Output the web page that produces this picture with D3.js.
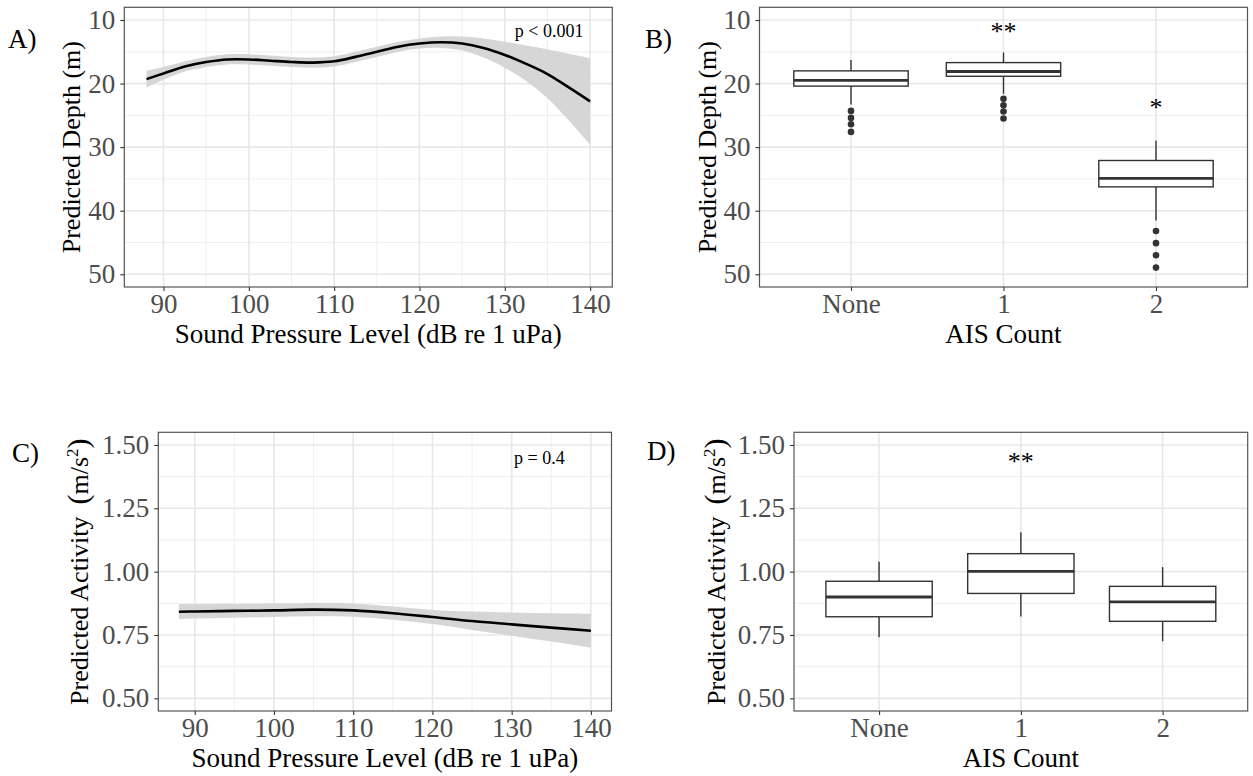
<!DOCTYPE html>
<html>
<head>
<meta charset="utf-8">
<script src="https://cdn.jsdelivr.net/npm/d3@7"></script>
<style>
  body { margin: 0; background: #fff; }
  text { font-family: "Liberation Serif", "Times New Roman", serif; }
</style>
</head>
<body>
<svg id="chart" width="1253" height="776"></svg>
<script>
// ---- data ----
// A) depth smooth vs sound pressure level
const splX       = [88, 90, 92.5, 95, 97.5, 100, 102.5, 105, 107.5, 110, 112.5, 115, 117.5, 120, 122.5, 125, 127.5, 130, 132.5, 135, 137.5, 140];
const depthFit   = [19.3, 18.4, 17.3, 16.6, 16.2, 16.2, 16.4, 16.6, 16.7, 16.5, 15.8, 15.0, 14.2, 13.7, 13.5, 13.7, 14.4, 15.5, 16.9, 18.5, 20.6, 22.8];
const depthUpper = [18.0, 17.4, 16.5, 15.8, 15.4, 15.4, 15.6, 15.8, 15.9, 15.7, 15.0, 14.2, 13.4, 12.9, 12.6, 12.6, 12.9, 13.4, 14.0, 14.6, 15.3, 16.0];
const depthLower = [20.6, 19.4, 18.1, 17.4, 17.0, 17.0, 17.2, 17.4, 17.5, 17.3, 16.6, 15.8, 15.0, 14.5, 14.4, 14.8, 15.9, 17.5, 19.6, 22.3, 25.8, 29.6];

// C) activity smooth vs sound pressure level
const splXC    = [88, 90, 95, 100, 105, 110, 115, 120, 125, 130, 135, 140];
const actFit   = [0.842, 0.843, 0.845, 0.847, 0.850, 0.847, 0.836, 0.821, 0.805, 0.792, 0.779, 0.767];
const actUpper = [0.872, 0.872, 0.873, 0.874, 0.876, 0.874, 0.862, 0.849, 0.843, 0.839, 0.836, 0.834];
const actLower = [0.813, 0.815, 0.818, 0.821, 0.824, 0.822, 0.810, 0.793, 0.770, 0.747, 0.724, 0.700];

// B) depth boxplots by AIS count
const aisCats       = ["None", "1", "2"];
const depthWhiskLo  = [16.3, 15.1, 29.0];
const depthQ1       = [18.0, 16.7, 32.1];
const depthMedian   = [19.5, 18.1, 34.9];
const depthQ3       = [20.4, 18.85, 36.25];
const depthWhiskHi  = [23.3, 21.6, 41.55];
const depthOutliers = [[24.3, 25.4, 26.4, 27.6], [22.4, 23.4, 24.4, 25.5], [43.2, 45.1, 47.0, 48.95]];
const depthSigCats   = ["1", "2"];
const depthSigLabels = ["**", "*"];
const depthSigY      = [11.05, 23.0];

// D) activity boxplots by AIS count
const actWhiskLo = [0.741, 0.823, 0.725];
const actQ1      = [0.822, 0.914, 0.804];
const actMedian  = [0.900, 1.001, 0.881];
const actQ3      = [0.962, 1.071, 0.942];
const actWhiskHi = [1.039, 1.156, 1.018];
const actSigCats   = ["1"];
const actSigLabels = ["**"];
const actSigY      = [1.454];

// ticks
const splTicks   = [90, 100, 110, 120, 130, 140];
const splMinor   = [95, 105, 115, 125, 135];
const depthTicks = [10, 20, 30, 40, 50];
const depthMinor = [15, 25, 35, 45];
const actTicks   = [0.50, 0.75, 1.00, 1.25, 1.50];
const actMinor   = [0.625, 0.875, 1.125, 1.375];

// ---- layout ----
const svg = d3.select("#chart");
svg.append("rect").attr("width", 1253).attr("height", 776).attr("fill", "#fff");

const boxes = {
    A: {l: 124.3, r: 612.3, t: 7.3, b: 287},
    B: {l: 759.5, r: 1247.5, t: 7.3, b: 287},
    C: {l: 158.3, r: 611.5, t: 432.3, b: 711},
    D: {l: 794, r: 1247.7, t: 432.3, b: 711}
};

const expand = (lo, hi) => { const e = (hi - lo) * 0.05; return [lo - e, hi + e]; };

const splDom = expand(88, 140);
const depthDom = expand(10, 50);
const actDom = expand(0.5, 1.5);

const xA = d3.scaleLinear().domain(splDom).range([boxes.A.l, boxes.A.r]);
const yA = d3.scaleLinear().domain(depthDom).range([boxes.A.t, boxes.A.b]);   // reversed depth
const xB = d3.scalePoint().domain(aisCats).range([boxes.B.l, boxes.B.r]).padding(0.6);
const yB = d3.scaleLinear().domain(depthDom).range([boxes.B.t, boxes.B.b]);
const xC = d3.scaleLinear().domain(splDom).range([boxes.C.l, boxes.C.r]);
const yC = d3.scaleLinear().domain(actDom).range([boxes.C.b, boxes.C.t]);
const xD = d3.scalePoint().domain(aisCats).range([boxes.D.l, boxes.D.r]).padding(0.6);
const yD = d3.scaleLinear().domain(actDom).range([boxes.D.b, boxes.D.t]);

// grid + background for a panel
function grid(box, x, y, xMajor, xMinor, yMajor, yMinor) {
    const g = svg.append("g");
    g.append("rect").attr("x", box.l).attr("y", box.t)
        .attr("width", box.r - box.l).attr("height", box.b - box.t).attr("fill", "#fff");
    g.selectAll(".ymin").data(yMinor).enter().append("line")
        .attr("x1", box.l).attr("x2", box.r).attr("y1", d => y(d)).attr("y2", d => y(d))
        .attr("stroke", "#efefef").attr("stroke-width", 1);
    g.selectAll(".xmin").data(xMinor).enter().append("line")
        .attr("y1", box.t).attr("y2", box.b).attr("x1", d => x(d)).attr("x2", d => x(d))
        .attr("stroke", "#efefef").attr("stroke-width", 1);
    g.selectAll(".ymaj").data(yMajor).enter().append("line")
        .attr("x1", box.l).attr("x2", box.r).attr("y1", d => y(d)).attr("y2", d => y(d))
        .attr("stroke", "#e8e8e8").attr("stroke-width", 1.6);
    g.selectAll(".xmaj").data(xMajor).enter().append("line")
        .attr("y1", box.t).attr("y2", box.b).attr("x1", d => x(d)).attr("x2", d => x(d))
        .attr("stroke", "#e8e8e8").attr("stroke-width", 1.6);
    return g;
}

// border, axes and titles
function frame(box, x, y, xTicks, yTicks, yFmt, xTitle, yTitleX, tag, tagX, tagY, xTitleGap) {
    svg.append("rect").attr("x", box.l).attr("y", box.t)
        .attr("width", box.r - box.l).attr("height", box.b - box.t)
        .attr("fill", "none").attr("stroke", "#555").attr("stroke-width", 1.2);

    const ax = svg.append("g").attr("transform", `translate(0,${box.b})`)
        .call(d3.axisBottom(x).tickValues(xTicks).tickSize(4).tickPadding(2.5));
    const ay = svg.append("g").attr("transform", `translate(${box.l},0)`)
        .call(d3.axisLeft(y).tickValues(yTicks).tickSize(4).tickPadding(5).tickFormat(yFmt));
    [ax, ay].forEach(a => {
        a.select(".domain").remove();
        a.selectAll(".tick line").attr("stroke", "#333").attr("stroke-width", 1.1);
        a.selectAll(".tick text").attr("fill", "#4d4d4d").style("font-size", "27px")
            .style("font-family", "'Liberation Serif', serif");
    });

    svg.append("text").attr("x", (box.l + box.r) / 2).attr("y", box.b + xTitleGap)
        .attr("text-anchor", "middle").style("font-size", "27px").attr("fill", "#000")
        .text(xTitle);

    svg.append("text").attr("x", tagX).attr("y", tagY)
        .style("font-size", "27px").attr("fill", "#000").text(tag);

    return svg.append("text")
        .attr("transform", `translate(${yTitleX},${(box.t + box.b) / 2}) rotate(-90)`)
        .attr("text-anchor", "middle").style("font-size", "26px").attr("fill", "#000");
}

function activityTitle(t) {
    t.append("tspan").text("Predicted Activity");
    t.append("tspan").attr("dx", 12).style("font-size", "30px").text("(");
    t.append("tspan").text("m/s");
    t.append("tspan").attr("dy", -10).style("font-size", "17px").text("2");
    t.append("tspan").attr("dy", 10).style("font-size", "30px").text(")");
}

// smooth with ribbon
function smooth(x, y, xs, fit, lo, hi) {
    const pts = xs.map((v, i) => ({x: v, f: fit[i], lo: lo[i], hi: hi[i]}));
    svg.append("path").datum(pts)
        .attr("d", d3.area().curve(d3.curveCatmullRom)
            .x(d => x(d.x)).y0(d => y(d.lo)).y1(d => y(d.hi)))
        .attr("fill", "#d6d6d6");
    svg.append("path").datum(pts)
        .attr("d", d3.line().curve(d3.curveCatmullRom).x(d => x(d.x)).y(d => y(d.f)))
        .attr("fill", "none").attr("stroke", "#000").attr("stroke-width", 2.6);
}

// boxplots
function boxplot(x, y, wLo, q1, med, q3, wHi, outliers) {
    const bw = x.step() * 0.75;
    const rows = aisCats.map((c, i) => ({c, wLo: wLo[i], q1: q1[i], med: med[i], q3: q3[i], wHi: wHi[i],
        out: outliers ? outliers[i] : []}));
    const g = svg.append("g");
    const b = g.selectAll(".box").data(rows).enter().append("g");
    b.append("line").attr("x1", d => x(d.c)).attr("x2", d => x(d.c))
        .attr("y1", d => y(d.wLo)).attr("y2", d => y(d.q1))
        .attr("stroke", "#333").attr("stroke-width", 1.4);
    b.append("line").attr("x1", d => x(d.c)).attr("x2", d => x(d.c))
        .attr("y1", d => y(d.q3)).attr("y2", d => y(d.wHi))
        .attr("stroke", "#333").attr("stroke-width", 1.4);
    b.append("rect").attr("x", d => x(d.c) - bw / 2).attr("width", bw)
        .attr("y", d => Math.min(y(d.q1), y(d.q3)))
        .attr("height", d => Math.abs(y(d.q3) - y(d.q1)))
        .attr("fill", "#fff").attr("stroke", "#333").attr("stroke-width", 1.4);
    b.append("line").attr("x1", d => x(d.c) - bw / 2).attr("x2", d => x(d.c) + bw / 2)
        .attr("y1", d => y(d.med)).attr("y2", d => y(d.med))
        .attr("stroke", "#333").attr("stroke-width", 2.8);
    b.each(function (d) {
        d3.select(this).selectAll("circle").data(d.out).enter().append("circle")
            .attr("cx", x(d.c)).attr("cy", v => y(v)).attr("r", 3.3).attr("fill", "#333");
    });
}

function stars(x, y, cats, labels, ys) {
    svg.selectAll(null).data(cats).enter().append("text")
        .attr("x", d => x(d)).attr("y", (d, i) => y(ys[i]))
        .attr("dy", "0.5em").attr("text-anchor", "middle")
        .style("font-size", "26px").attr("fill", "#000")
        .text((d, i) => labels[i]);
}

// ---- panel A ----
grid(boxes.A, xA, yA, splTicks, splMinor, depthTicks, depthMinor);
smooth(xA, yA, splX, depthFit, depthLower, depthUpper);
svg.append("text").attr("x", xA(135.2)).attr("y", yA(12.6)).attr("text-anchor", "middle")
    .style("font-size", "18px").text("p < 0.001");
frame(boxes.A, xA, yA, splTicks, depthTicks, d3.format("d"),
    "Sound Pressure Level (dB re 1 uPa)", 80, "A)", 8, 48, 56).text("Predicted Depth (m)");

// ---- panel B ----
grid(boxes.B, xB, yB, aisCats, [], depthTicks, depthMinor);
boxplot(xB, yB, depthWhiskLo, depthQ1, depthMedian, depthQ3, depthWhiskHi, depthOutliers);
stars(xB, yB, depthSigCats, depthSigLabels, depthSigY);
frame(boxes.B, xB, yB, aisCats, depthTicks, d3.format("d"),
    "AIS Count", 716, "B)", 645, 48, 56).text("Predicted Depth (m)");

// ---- panel C ----
grid(boxes.C, xC, yC, splTicks, splMinor, actTicks, actMinor);
smooth(xC, yC, splXC, actFit, actLower, actUpper);
svg.append("text").attr("x", xC(133.5)).attr("y", yC(1.426)).attr("text-anchor", "middle")
    .style("font-size", "18px").text("p = 0.4");
activityTitle(frame(boxes.C, xC, yC, splTicks, actTicks, d3.format(".2f"),
    "Sound Pressure Level (dB re 1 uPa)", 87.5, "C)", 12, 462, 56));

// ---- panel D ----
grid(boxes.D, xD, yD, aisCats, [], actTicks, actMinor);
boxplot(xD, yD, actWhiskLo, actQ1, actMedian, actQ3, actWhiskHi, null);
stars(xD, yD, actSigCats, actSigLabels, actSigY);
activityTitle(frame(boxes.D, xD, yD, aisCats, actTicks, d3.format(".2f"),
    "AIS Count", 725, "D)", 647, 460, 56));
</script>
</body>
</html>
